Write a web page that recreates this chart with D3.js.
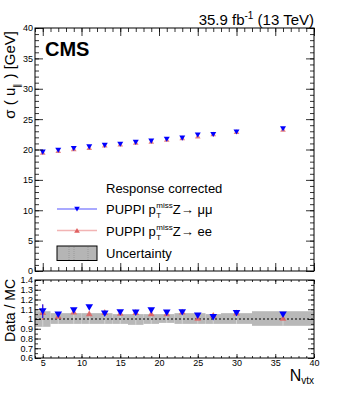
<!DOCTYPE html>
<html>
<head>
<meta charset="utf-8">
<title>PUPPI resolution vs Nvtx</title>
<style>
  body { margin: 0; background: #fff; }
  svg { font-family: "Liberation Sans", Arial, sans-serif; }
  .tick text { font-size: 9px; fill: #000; }
  .domain { display: none; }
</style>
</head>
<body>
<svg id="chart" width="349" height="393"></svg>
<script src="https://d3js.org/d3.v7.min.js"></script>
<script>
// data
const nvtx = [5, 7, 9, 11, 13, 15, 17, 19, 21, 23, 25, 27, 30, 36];
const binEdges = [4, 6, 8, 10, 12, 14, 16, 18, 20, 22, 24, 26, 28, 32, 40];
const sigmaMuMu = [19.6, 19.9, 20.2, 20.45, 20.7, 20.9, 21.2, 21.4, 21.7, 21.9, 22.4, 22.5, 22.9, 23.45];
const sigmaEE   = [19.5, 19.8, 20.1, 20.3, 20.7, 20.85, 21.15, 21.3, 21.65, 21.9, 22.2, 22.55, 22.9, 23.3];
const ratioMuMu = [1.08, 1.045, 1.09, 1.12, 1.055, 1.07, 1.065, 1.09, 1.065, 1.07, 1.035, 1.02, 1.06, 1.045];
const ratioEE   = [1.07, 1.03, 1.075, 1.055, 1.07, 1.06, 1.07, 1.055, 1.055, 1.075, 1.01, 1.04, 1.065, 1.01];
const errMuMu   = [0.07, 0.015, 0.015, 0.015, 0.015, 0.012, 0.012, 0.012, 0.012, 0.012, 0.012, 0.012, 0.012, 0.015];
const errEE     = [0.08, 0.02, 0.02, 0.02, 0.02, 0.02, 0.02, 0.02, 0.02, 0.02, 0.02, 0.02, 0.02, 0.02];
const uncLow    = [0.92, 0.95, 0.95, 0.95, 0.95, 0.95, 0.94, 0.95, 0.96, 0.95, 0.95, 0.95, 0.95, 0.93];
const uncHigh   = [1.08, 1.06, 1.06, 1.06, 1.06, 1.05, 1.05, 1.05, 1.05, 1.06, 1.06, 1.05, 1.06, 1.08];
const mainTicks = [0, 5, 10, 15, 20, 25, 30, 35, 40];
const ratioTicks = [0.6, 0.7, 0.8, 0.9, 1, 1.1, 1.2, 1.3, 1.4];
const xTicks = [5, 10, 15, 20, 25, 30, 35, 40];

const left = 35, right = 314;
const mainTop = 28, mainBottom = 271;
const ratTop = 280, ratBottom = 358;

const svg = d3.select("#chart");

const x = d3.scaleLinear().domain([4, 40]).range([left, right]);
const yMain = d3.scaleLinear().domain([0, 40]).range([mainBottom, mainTop]);
const yRat = d3.scaleLinear().domain([0.6, 1.4]).range([ratBottom, ratTop]);

const blue = "#0000ff", blueLine = "#8c8cff";
const red = "#e06060", redLine = "#f2b4b4";

function triDown(cx, cy, s) {
  return `M${cx - s},${cy - s * 0.8}L${cx + s},${cy - s * 0.8}L${cx},${cy + s * 0.9}Z`;
}
function triUp(cx, cy, s) {
  return `M${cx - s},${cy + s * 0.8}L${cx + s},${cy + s * 0.8}L${cx},${cy - s * 0.9}Z`;
}

// ---- axes helper (ROOT style, ticks inside) ----
function drawAxes(yScale, top, bottom, yMajor, yMinorStep, xMajorLen, xMinorLen, yMajorLen, yMinorLen, showXLabels, yFmt) {
  const g = svg.append("g");
  const yDom = yScale.domain();
  const yMinor = d3.range(yDom[0], yDom[1] + 1e-9, yMinorStep);
  const xMinor = d3.range(4, 40.001, 1);

  // left y
  g.append("g").attr("transform", `translate(${left},0)`)
    .call(d3.axisLeft(yScale).tickValues(yMinor).tickSize(-yMinorLen).tickFormat(""));
  g.append("g").attr("transform", `translate(${left},0)`)
    .call(d3.axisLeft(yScale).tickValues(yMajor).tickSize(-yMajorLen).tickPadding(2).tickFormat(yFmt));
  // right y
  g.append("g").attr("transform", `translate(${right},0)`)
    .call(d3.axisRight(yScale).tickValues(yMinor).tickSize(-yMinorLen).tickFormat(""));
  g.append("g").attr("transform", `translate(${right},0)`)
    .call(d3.axisRight(yScale).tickValues(yMajor).tickSize(-yMajorLen).tickFormat(""));
  // bottom x
  g.append("g").attr("transform", `translate(0,${bottom})`)
    .call(d3.axisBottom(x).tickValues(xMinor).tickSize(-xMinorLen).tickFormat(""));
  g.append("g").attr("transform", `translate(0,${bottom})`)
    .call(d3.axisBottom(x).tickValues(xTicks).tickSize(-xMajorLen).tickPadding(2)
      .tickFormat(showXLabels ? d3.format("d") : ""));
  // top x
  g.append("g").attr("transform", `translate(0,${top})`)
    .call(d3.axisTop(x).tickValues(xMinor).tickSize(-xMinorLen).tickFormat(""));
  g.append("g").attr("transform", `translate(0,${top})`)
    .call(d3.axisTop(x).tickValues(xTicks).tickSize(-xMajorLen).tickFormat(""));

  g.selectAll(".tick line").attr("stroke", "#000").attr("stroke-width", 0.8);

  svg.append("rect")
    .attr("x", left).attr("y", top)
    .attr("width", right - left).attr("height", bottom - top)
    .attr("fill", "none").attr("stroke", "#000").attr("stroke-width", 1);
}

// ---- main panel ----
const main = svg.append("g");
main.selectAll(".errmu").data(nvtx).join("line")
  .attr("x1", d => x(d)).attr("x2", d => x(d))
  .attr("y1", (d, i) => yMain(sigmaMuMu[i] - 0.15)).attr("y2", (d, i) => yMain(sigmaMuMu[i] + 0.15))
  .attr("stroke", blue).attr("stroke-width", 1);
main.selectAll(".ee").data(nvtx).join("path")
  .attr("d", (d, i) => triUp(x(d), yMain(sigmaEE[i]), 2.8))
  .attr("fill", red).attr("opacity", 0.8);
main.selectAll(".mu").data(nvtx).join("path")
  .attr("d", (d, i) => triDown(x(d), yMain(sigmaMuMu[i]), 3))
  .attr("fill", blue);

drawAxes(yMain, mainTop, mainBottom, mainTicks, 1, 8, 4, 8, 4, false, d3.format("d"));

// ---- ratio panel ----
const rat = svg.append("g");
rat.selectAll(".unc").data(uncLow).join("rect")
  .attr("x", (d, i) => x(binEdges[i]))
  .attr("width", (d, i) => x(binEdges[i + 1]) - x(binEdges[i]))
  .attr("y", (d, i) => yRat(uncHigh[i]))
  .attr("height", (d, i) => yRat(uncLow[i]) - yRat(uncHigh[i]))
  .attr("fill", "#b8b8b8");
rat.selectAll(".sep").data(nvtx).join("line")
  .attr("x1", d => x(d)).attr("x2", d => x(d))
  .attr("y1", (d, i) => yRat(uncHigh[i]) + 2).attr("y2", (d, i) => yRat(uncLow[i]))
  .attr("stroke", "#dcdcdc").attr("stroke-width", 0.8);
rat.append("line")
  .attr("x1", left).attr("x2", right)
  .attr("y1", yRat(1)).attr("y2", yRat(1))
  .attr("stroke", "#000").attr("stroke-width", 1.2).attr("stroke-dasharray", "2,2");

rat.selectAll(".errEE").data(nvtx).join("line")
  .attr("x1", d => x(d)).attr("x2", d => x(d))
  .attr("y1", (d, i) => yRat(ratioEE[i] - errEE[i])).attr("y2", (d, i) => yRat(ratioEE[i] + errEE[i]))
  .attr("stroke", red).attr("stroke-width", 1);
rat.selectAll(".ee").data(nvtx).join("path")
  .attr("d", (d, i) => triUp(x(d), yRat(ratioEE[i]), 3.4))
  .attr("fill", red).attr("opacity", 0.85);
rat.selectAll(".errMu").data(nvtx).join("line")
  .attr("x1", d => x(d)).attr("x2", d => x(d))
  .attr("y1", (d, i) => yRat(ratioMuMu[i] - errMuMu[i])).attr("y2", (d, i) => yRat(ratioMuMu[i] + errMuMu[i]))
  .attr("stroke", blue).attr("stroke-width", 1);
rat.selectAll(".mu").data(nvtx).join("path")
  .attr("d", (d, i) => triDown(x(d), yRat(ratioMuMu[i]), 3.8))
  .attr("fill", blue);

drawAxes(yRat, ratTop, ratBottom, ratioTicks, 0.05, 4, 2, 6, 3, true, d => d3.format(".1f")(d).replace(/\.0$/, ""));
svg.selectAll(".tick text").attr("font-family", "Liberation Sans, Arial, sans-serif");

// ---- texts ----
svg.append("text")
  .attr("x", right).attr("y", 25).attr("text-anchor", "end")
  .attr("font-size", 15)
  .call(t => {
    t.append("tspan").text("35.9 fb");
    t.append("tspan").attr("dy", -6).attr("font-size", 10).text("-1");
    t.append("tspan").attr("dy", 6).text(" (13 TeV)");
  });

svg.append("text")
  .attr("x", 45).attr("y", 56)
  .attr("font-size", 20).attr("font-weight", "bold")
  .text("CMS");

// y titles
const yTitle = svg.append("text")
  .attr("transform", "translate(15,31) rotate(-90)")
  .attr("text-anchor", "end").attr("font-size", 15);
yTitle.append("tspan").text("σ ( u");
yTitle.append("tspan").attr("dy", 5).attr("font-size", 9).text("∥");
yTitle.append("tspan").attr("dy", -5).text(" ) [GeV]");

svg.append("text")
  .attr("transform", `translate(15,${ratTop - 1}) rotate(-90)`)
  .attr("text-anchor", "end").attr("font-size", 14)
  .text("Data / MC");

const xTitle = svg.append("text")
  .attr("x", right).attr("y", 381).attr("text-anchor", "end").attr("font-size", 16);
xTitle.append("tspan").text("N");
xTitle.append("tspan").attr("dy", 3).attr("font-size", 10).text("vtx");

// ---- legend ----
const lg = svg.append("g").attr("font-size", 13);
const lx0 = 57, lx1 = 97, tx = 106;
lg.append("text").attr("x", tx).attr("y", 193).text("Response corrected");

const legRows = [
  { y: 209, line: blueLine, mark: triDown, col: blue, label: "μμ" },
  { y: 230.5, line: redLine, mark: triUp, col: red, label: "ee" }
];
legRows.forEach(r => {
  lg.append("line").attr("x1", lx0).attr("x2", lx1).attr("y1", r.y).attr("y2", r.y)
    .attr("stroke", r.line).attr("stroke-width", 1.5);
  lg.append("path").attr("d", r.mark(77, r.y, 2.8)).attr("fill", r.col);
  const t1 = lg.append("text").attr("x", tx).attr("y", r.y + 5).text("PUPPI p");
  const w = t1.node().getComputedTextLength();
  lg.append("text").attr("x", tx + w + 0.5).attr("y", r.y - 1).attr("font-size", 8).text("miss");
  lg.append("text").attr("x", tx + w + 0.5).attr("y", r.y + 9).attr("font-size", 8).text("T");
  lg.append("text").attr("x", tx + w + 17).attr("y", r.y + 5).text("Z→ " + r.label);
});

lg.append("rect").attr("x", lx0).attr("y", 246).attr("width", lx1 - lx0).attr("height", 14.5)
  .attr("fill", "#b5b5b5").attr("stroke", "#000").attr("stroke-width", 1);
[69, 74, 88].forEach(px => {
  lg.append("line").attr("x1", px).attr("x2", px).attr("y1", 247).attr("y2", 260)
    .attr("stroke", "#888").attr("stroke-width", 0.6).attr("stroke-dasharray", "1,1");
});
lg.append("text").attr("x", tx).attr("y", 258).text("Uncertainty");
</script>
</body>
</html>
